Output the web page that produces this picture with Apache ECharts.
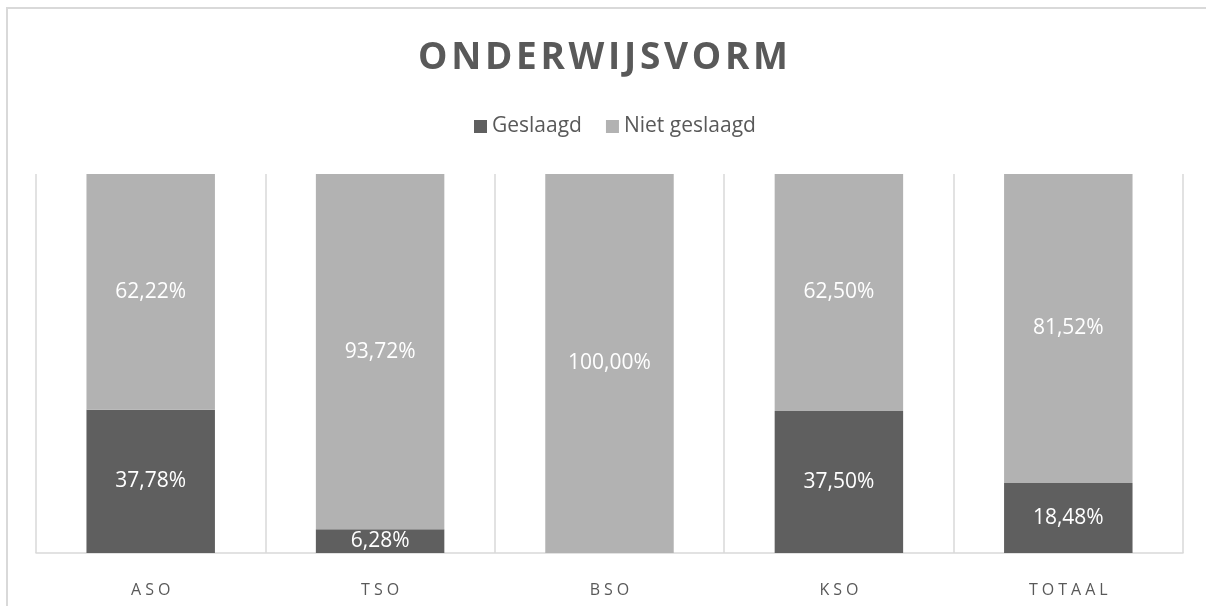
<!DOCTYPE html>
<html>
<head>
<meta charset="utf-8">
<script src="https://cdn.jsdelivr.net/npm/echarts@6/dist/echarts.min.js"></script>
<style>
  html, body { margin: 0; padding: 0; background: #fff; }
  #chart { width: 1206px; height: 606px; }
</style>
</head>
<body>
<div id="chart"></div>
<script>
// data
const categories = ['ASO', 'TSO', 'BSO', 'KSO', 'TOTAAL']
const geslaagd = [37.78, 6.28, 0, 37.50, 18.48]
const nietGeslaagd = [62.22, 93.72, 100.00, 62.50, 81.52]

const fontFamily = '"Open Sans", "Noto Sans", sans-serif'
const textColor = '#595959'
const lineColor = '#d9d9d9'

// spread letters apart (excel-style letter spacing)
const spread = (text, sep) => text.split('').join(sep)

const pctLabel = params => {
  if (!params.value) return ''
  return params.value.toFixed(2).replace('.', ',') + '%'
}

const chart = echarts.init(document.getElementById('chart'), null, { renderer: 'canvas' })

chart.setOption({
  backgroundColor: '#fff',
  animation: false,
  title: {
    text: spread('ONDERWIJSVORM', '\u200A'),
    left: 'center',
    top: 35,
    textStyle: {
      fontFamily,
      fontSize: 37,
      fontWeight: 'bold',
      color: textColor
    }
  },
  legend: {
    top: 111,
    left: 469,
    icon: 'rect',
    itemWidth: 13,
    itemHeight: 13,
    itemGap: 24,
    itemTextGap: 6,
    textStyle: { fontFamily, fontSize: 21, color: textColor },
    data: ['Geslaagd', 'Niet geslaagd']
  },
  graphic: [{
    type: 'rect',
    shape: { x: 7, y: 8, width: 1300, height: 700 },
    style: { fill: 'none', stroke: lineColor, lineWidth: 2 },
    silent: true
  }],
  grid: { left: 36, right: 23, top: 174, bottom: 53 },
  xAxis: {
    type: 'category',
    data: categories,
    axisLine: { lineStyle: { color: lineColor, width: 1.5 } },
    axisTick: { show: false },
    splitLine: { show: true, lineStyle: { color: lineColor, width: 1.5 } },
    axisLabel: {
      fontFamily,
      fontSize: 16,
      color: textColor,
      margin: 29,
      formatter: v => spread(v, '\u2005')
    }
  },
  yAxis: {
    type: 'value',
    min: 0,
    max: 100,
    show: false,
    splitLine: { show: false }
  },
  series: [
    {
      name: 'Geslaagd',
      type: 'bar',
      stack: 'total',
      barWidth: '56%',
      data: geslaagd,
      itemStyle: { color: '#5f5f5f' },
      label: { show: true, position: 'inside', color: '#fff', fontFamily, fontSize: 21, formatter: pctLabel }
    },
    {
      name: 'Niet geslaagd',
      type: 'bar',
      stack: 'total',
      barWidth: '56%',
      data: nietGeslaagd,
      itemStyle: { color: '#b2b2b2' },
      label: { show: true, position: 'inside', color: '#fff', fontFamily, fontSize: 21, formatter: pctLabel }
    }
  ]
})
</script>
</body>
</html>
